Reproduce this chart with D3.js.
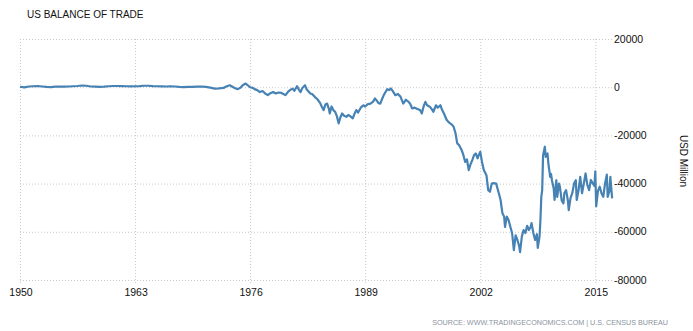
<!DOCTYPE html>
<html lang="en">
<head>
  <meta charset="UTF-8">
  <title>US Balance of Trade</title>
  <style>
    body { margin: 0; background: #fff; }
    svg { display: block; font-family: "Liberation Sans", Arial, sans-serif; }
    .grid line { stroke: #c8c8c8; stroke-width: 1; stroke-dasharray: 1,2; }
    .grid path { display: none; }
  </style>
  <script src="https://d3js.org/d3.v7.min.js"></script>
</head>
<body>
  <svg id="chart" width="693" height="331"></svg>

  <script>
    // valori (milioni di USD)
    var time = [
      1950.0, 1950.5, 1951.0, 1951.5, 1952.0, 1952.5, 1953.0, 1953.5, 1954.0, 1954.5,
      1955.0, 1955.5, 1956.0, 1956.5, 1957.0, 1957.5, 1958.0, 1958.5, 1959.0, 1959.5,
      1960.0, 1960.5, 1961.0, 1961.5, 1962.0, 1962.5, 1963.0, 1963.5, 1964.0, 1964.5,
      1965.0, 1965.5, 1966.0, 1966.5, 1967.0, 1967.5, 1968.0, 1968.5, 1969.0, 1969.5,
      1970.0, 1970.5, 1971.0, 1971.5, 1972.0, 1972.5, 1973.0, 1973.3, 1973.7, 1974.0,
      1974.3, 1974.6, 1974.9, 1975.2, 1975.5, 1975.8, 1976.0, 1976.3, 1976.5, 1976.8,
      1977.1, 1977.4, 1977.7, 1978.0, 1978.3, 1978.6, 1978.9, 1979.2, 1979.5, 1979.8,
      1980.0, 1980.3, 1980.5, 1980.8, 1981.0, 1981.3, 1981.5, 1981.7, 1981.9, 1982.2,
      1982.4, 1982.6, 1982.8, 1983.0, 1983.3, 1983.6, 1983.9, 1984.1, 1984.3, 1984.5,
      1984.7, 1984.9, 1985.0, 1985.2, 1985.4, 1985.6, 1985.8, 1986.0, 1986.2, 1986.4,
      1986.6, 1986.9, 1987.1, 1987.3, 1987.6, 1987.8, 1988.0, 1988.2, 1988.5, 1988.8,
      1989.0, 1989.3, 1989.6, 1989.9, 1990.1, 1990.3, 1990.5, 1990.7, 1990.9, 1991.1,
      1991.3, 1991.5, 1991.7, 1991.9, 1992.1, 1992.4, 1992.7, 1993.0, 1993.3, 1993.6,
      1993.9, 1994.1, 1994.3, 1994.6, 1994.9, 1995.2, 1995.4, 1995.6, 1995.8, 1996.0,
      1996.3, 1996.5, 1996.7, 1997.0, 1997.2, 1997.5, 1997.7, 1997.9, 1998.2, 1998.4,
      1998.6, 1998.8, 1999.0, 1999.2, 1999.4, 1999.6, 1999.9, 2000.1, 2000.3, 2000.5,
      2000.7, 2000.9, 2001.1, 2001.3, 2001.5, 2001.7, 2001.8, 2002.0, 2002.2, 2002.4,
      2002.7, 2002.9, 2003.1, 2003.3, 2003.5, 2003.8, 2004.1, 2004.3, 2004.5, 2004.7,
      2004.8, 2005.0, 2005.2, 2005.4, 2005.6, 2005.8, 2006.0, 2006.2, 2006.4, 2006.5,
      2006.7, 2006.9, 2007.1, 2007.3, 2007.5, 2007.7, 2007.8, 2008.0, 2008.2, 2008.4,
      2008.5, 2008.7, 2008.8, 2008.9, 2009.0, 2009.1, 2009.2, 2009.3, 2009.4, 2009.6,
      2009.7, 2009.9, 2010.0, 2010.1, 2010.3, 2010.4, 2010.6, 2010.7, 2010.9, 2011.0,
      2011.2, 2011.4, 2011.5, 2011.7, 2011.9, 2012.0, 2012.2, 2012.4, 2012.6, 2012.8,
      2012.9, 2013.1, 2013.3, 2013.5, 2013.7, 2013.9, 2014.1, 2014.3, 2014.5, 2014.7,
      2014.9, 2015.0, 2015.1, 2015.3, 2015.5, 2015.7, 2015.9, 2016.1, 2016.3, 2016.4,
      2016.6, 2016.7, 2016.9
    ];

    var balance = [
      200, -100, 300, 400, 500, 300, 100, 0, 200, 300,
      250, 300, 400, 500, 700, 600, 300, 250, 100, 200,
      400, 500, 500, 450, 400, 350, 400, 450, 600, 600,
      450, 400, 350, 300, 350, 300, 100, 50, 100, 100,
      250, 300, 100, -200, -600, -500, -300, 300, 800, 200,
      -400, -800, -200, 900, 1500, 600, 0, -300, -800, -1200,
      -2000, -1600, -2600, -3300, -2500, -2000, -2600, -2200, -2300, -2900,
      -3300, -1800, -1200, -600, -1500, 400, -1000, -2000, -300, 800,
      -1000, -1800, -2600, -2800, -4000, -5000, -6500, -8100, -9500, -7200,
      -6800, -9000, -10900, -8000, -9500, -10200, -12000, -15000, -12500, -10900,
      -11800, -12300, -11500, -12000, -12900, -11000, -9500, -10500, -8500, -7500,
      -8000, -7000, -6800, -6000, -4700, -5500, -6600, -6800, -5000, -3300,
      -2000, -800, -1200, -550, -1500, -3300, -2800, -4000, -6800, -5200,
      -6100, -7000, -8800, -8500, -9000, -9500, -10900, -8000, -6100, -7500,
      -8100, -9000, -10200, -7500, -8500, -7500, -9500, -10900, -13500, -14400,
      -15000, -15500, -16500, -19000, -23300, -24000, -26100, -28200, -31000, -30000,
      -34400, -32000, -30300, -28200, -27500, -29500, -28500, -26800, -31000, -34400,
      -36500, -42700, -43400, -40000, -39800, -40000, -44000, -46800, -52200, -53700,
      -58000, -53700, -55100, -57900, -60500, -67600, -61500, -63400, -66000, -68400,
      -62000, -59300, -60500, -57500, -59300, -57900, -56400, -60500, -63400, -61000,
      -66700, -62000, -55100, -45500, -42700, -28200, -26500, -24700, -28900, -27500,
      -31700, -37200, -36000, -38600, -42000, -46800, -38600, -45500, -40000, -41300,
      -47000, -48200, -44000, -42700, -47000, -51000, -46000, -44000, -40000, -38600,
      -46800, -43000, -37200, -44000, -40000, -35800, -40500, -42700, -38500, -39800,
      -41000, -34900, -49400, -43000, -41300, -44000, -45500, -40000, -36300, -45500,
      -43000, -37200, -46100
    ];

    var yearTicks = [1950, 1963, 1976, 1989, 2002, 2015];
    var valueTicks = [20000, 0, -20000, -40000, -60000, -80000];

    var svg = d3.select("#chart");

    var x = d3.scaleLinear().domain([1950, 2017]).range([20, 613]);
    var y = d3.scaleLinear().domain([-80000, 20000]).range([280, 39]);

    // griglia verticale
    svg.append("g")
      .attr("class", "grid")
      .attr("transform", "translate(0,283)")
      .call(d3.axisBottom(x).tickValues(yearTicks).tickSize(-244).tickFormat(""));

    // griglia orizzontale
    svg.append("g")
      .attr("class", "grid")
      .attr("transform", "translate(20,0)")
      .call(d3.axisRight(y).tickValues(valueTicks).tickSize(593).tickFormat(""));

    // etichette anni
    svg.append("g")
      .selectAll("text")
      .data(yearTicks)
      .join("text")
      .attr("x", d => x(d) + 1)
      .attr("y", 296)
      .attr("text-anchor", "middle")
      .attr("font-size", "10.5px")
      .attr("fill", "#111")
      .text(d => d);

    // etichette valori
    svg.append("g")
      .selectAll("text")
      .data(valueTicks)
      .join("text")
      .attr("x", 614)
      .attr("y", d => y(d))
      .attr("dy", "0.35em")
      .attr("font-size", "10.5px")
      .attr("fill", "#111")
      .text(d => d);

    var points = time.map((t, i) => [t, balance[i]]);

    var line = d3.line()
      .x(d => x(d[0]))
      .y(d => y(d[1]));

    svg.append("path")
      .datum(points)
      .attr("fill", "none")
      .attr("stroke", "#4682b4")
      .attr("stroke-width", 2.2)
      .attr("stroke-linejoin", "round")
      .attr("d", line);

    // titolo
    svg.append("text")
      .attr("x", 27)
      .attr("y", 18)
      .attr("font-size", "10px")
      .attr("fill", "#111")
      .text("US BALANCE OF TRADE");

    // etichetta asse
    svg.append("text")
      .attr("transform", "translate(680,161) rotate(90)")
      .attr("text-anchor", "middle")
      .attr("font-size", "10px")
      .attr("fill", "#111")
      .text("USD Million");

    // fonte
    svg.append("text")
      .attr("x", 668)
      .attr("y", 325)
      .attr("text-anchor", "end")
      .attr("font-size", "7.2px")
      .attr("fill", "#8a93a0")
      .text("SOURCE: WWW.TRADINGECONOMICS.COM | U.S. CENSUS BUREAU");
  </script>
</body>
</html>
